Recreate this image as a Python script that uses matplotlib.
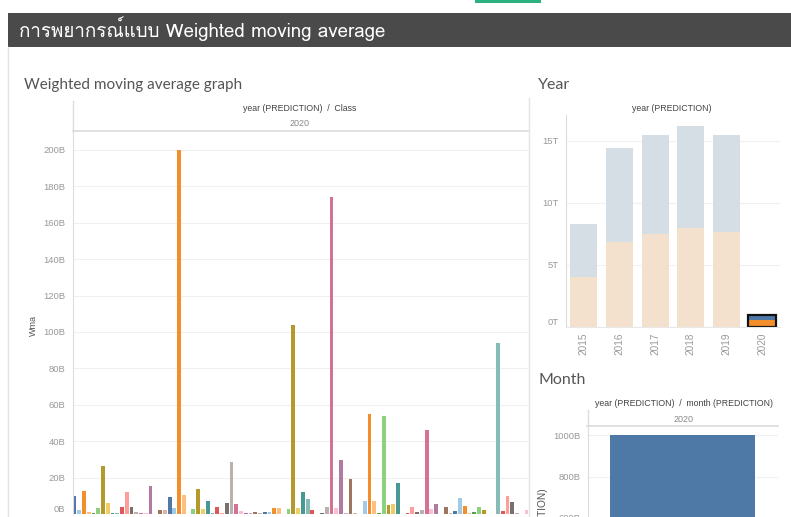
import matplotlib
matplotlib.use("Agg")
import matplotlib.pyplot as plt
from matplotlib import font_manager, ft2font
from matplotlib.lines import Line2D
from matplotlib.patches import Rectangle
import numpy as np

# ---- data ----
class_wma = [9.7, 2.4, 12.8, 1.1, 0.5, 3.1, 26.4, 5.9, 0.8, 0.3,
             3.7, 12.3, 4.0, 1.1, 0.5, 0.6, 15.2, 0.1, 2.0, 2.0,
             9.5, 3.5, 200, 10.3, 0.2, 2.7, 13.7, 2.7, 7.1, 0.3,
             3.8, 0.5, 6.0, 28.4, 5.3, 1.6, 0.4, 0.6, 1.3, 0.3,
             0.9, 1.3, 3.3, 3.3, 0.1, 2.7, 104, 3.3, 12.3, 8.1,
             2.4, 0.1, 0.6, 4.0, 174, 3.5, 29.7, 0.6, 19.2, 0.3,
             0.1, 7.1, 55, 7.1, 0.3, 54, 5.1, 5.5, 16.8, 0.1,
             0.3, 3.7, 1.0, 2.2, 46, 2.7, 5.5, 0.1, 3.7, 0.8,
             1.8, 8.8, 4.4, 0.6, 1.1, 3.7, 2.4, 0.1, 0.1, 94,
             1.6, 10.1, 6.4, 0.3, 0.1, 2.0]  # billions

tableau20 = ['#4E79A7', '#A0CBE8', '#F28E2B', '#FFBE7D', '#59A14F', '#8CD17D',
             '#B6992D', '#F1CE63', '#499894', '#86BCB6', '#E15759', '#FF9D9A',
             '#79706E', '#BAB0AC', '#D37295', '#FABFD2', '#B07AA1', '#D4A6C8',
             '#9D7660', '#D7B5A6']

years = ['2015', '2016', '2017', '2018', '2019', '2020']
year_actual = [3.98, 6.8, 7.48, 7.98, 7.66]       # trillions, peach part
year_rest = [4.28, 7.59, 7.98, 8.21, 7.8]         # trillions, grey part on top
pred_2020_orange = 0.5
pred_2020_blue = 0.45

month_pred = [1000]  # billions, 2020


def thai_font():
    for f in font_manager.fontManager.ttflist:
        try:
            if 0x0E01 in ft2font.FT2Font(f.fname).get_charmap():
                return f.name
        except Exception:
            pass
    return 'DejaVu Sans'


plt.rcParams['font.family'] = ['Liberation Sans', 'DejaVu Sans']

W, H = 791, 517
fig = plt.figure(figsize=(W / 100, H / 100), dpi=100)
fig.patch.set_facecolor('white')


def px_axes(x0, y0, x1, y1):
    return fig.add_axes([x0 / W, 1 - y1 / H, (x1 - x0) / W, (y1 - y0) / H])


def fx(x):
    return x / W


def fy(y):
    return 1 - y / H


def hline(x0, x1, y, color='#dcdcdc', lw=1.2):
    fig.add_artist(Line2D([fx(x0), fx(x1)], [fy(y), fy(y)], color=color, lw=lw))


def vline(x, y0, y1, color='#dcdcdc', lw=1.0):
    fig.add_artist(Line2D([fx(x), fx(x)], [fy(y0), fy(y1)], color=color, lw=lw))


# title bar
fig.add_artist(Rectangle((fx(8), fy(47)), fx(791 - 8), (47 - 13) / H,
                         facecolor='#4a4a4a', edgecolor='none'))
fig.add_artist(Rectangle((fx(475), fy(3)), fx(66), 3 / H,
                         facecolor='#2bb07f', edgecolor='none'))
tf = thai_font()
fig.text(fx(19), fy(29), 'การพยากรณ์แบบ Weighted moving average', color='white',
         fontsize=13.5, family=[tf, 'DejaVu Sans'], va='center', ha='left')

vline(8, 47, 517, color='#e4e4e4')
vline(528.5, 98, 517, color='#e4e4e4')

# ---- main chart ----
fig.text(fx(24), fy(85), 'Weighted moving average graph', fontsize=11,
         color='#555555', family='Lato', va='center')
fig.text(fx(300), fy(109), 'year (PREDICTION)  /  Class', fontsize=6.3,
         color='#444444', ha='center', va='center')
fig.text(fx(300), fy(124), '2020', fontsize=6.5, color='#888888',
         ha='center', va='center')
hline(72.5, 528, 131)
vline(72.5, 101, 131)

ax = px_axes(72.5, 131, 528, 514)
idx = np.arange(len(class_wma))
ax.bar(idx, class_wma, width=0.8, color=[tableau20[i % 20] for i in idx])
ax.set_xlim(-0.4, 95.3)
ax.set_ylim(0, 210.4)
yt = np.arange(0, 201, 20)
ax.set_yticks(yt)
ax.set_yticklabels([f'{v}B' for v in yt], fontsize=6.8, color='#999999')
ax.get_yticklabels()[0].set_va('bottom')
ax.tick_params(axis='y', length=0, pad=5)
ax.set_xticks([])
ax.grid(axis='y', color='#f0f0f0', lw=0.8)
ax.set_axisbelow(True)
for s in ['top', 'right', 'bottom']:
    ax.spines[s].set_visible(False)
ax.spines['left'].set_color('#dcdcdc')
fig.text(fx(33), fy(325), 'Wma', rotation=90, fontsize=6.5, color='#555555',
         ha='center', va='center')

# ---- year chart ----
fig.text(fx(538), fy(85), 'Year', fontsize=11.5, color='#555555',
         family='Lato', va='center')
fig.text(fx(672), fy(109), 'year (PREDICTION)', fontsize=6.3, color='#444444',
         ha='center', va='center')
ay = px_axes(566, 115, 780, 326.7)
xs = np.arange(len(year_actual))
ay.bar(xs, year_actual, width=0.76, color='#f3e1cd')
ay.bar(xs, year_rest, width=0.76, bottom=year_actual, color='#d5dde5')
ay.bar([5], [pred_2020_orange], width=0.76, color='#F28E2B')
ay.bar([5], [pred_2020_blue], width=0.76, bottom=[pred_2020_orange], color='#4E79A7')
ay.bar([5], [pred_2020_orange + pred_2020_blue], width=0.8, color='none',
       edgecolor='#111111', lw=1.6)
ay.set_xlim(-0.5, 5.5)
ay.set_ylim(0, 17.07)
ay.set_yticks([0, 5, 10, 15])
ay.set_yticklabels(['0T', '5T', '10T', '15T'], fontsize=6.8, color='#999999')
ay.get_yticklabels()[0].set_va('bottom')
ay.tick_params(axis='y', length=0, pad=5)
ay.set_xticks(range(len(years)))
ay.set_xticklabels(years, rotation=90, fontsize=7.2, color='#999999')
ay.tick_params(axis='x', length=0, pad=4)
ay.grid(axis='y', color='#f0f0f0', lw=0.8)
ay.set_axisbelow(True)
for s in ['top', 'right']:
    ay.spines[s].set_visible(False)
ay.spines['left'].set_color('#dcdcdc')
ay.spines['bottom'].set_color('#e8e8e8')

# ---- month chart ----
fig.text(fx(538), fy(380), 'Month', fontsize=11.5, color='#555555',
         family='Lato', va='center')
fig.text(fx(684), fy(404), 'year (PREDICTION)  /  month (PREDICTION)',
         fontsize=6.3, color='#444444', ha='center', va='center')
fig.text(fx(684), fy(419), '2020', fontsize=6.5, color='#888888',
         ha='center', va='center')
hline(587, 778, 426)
vline(587.5, 410, 426)
am = px_axes(587.5, 426, 778, 641.8)
am.bar([0], month_pred, width=0.76, color='#4E79A7')
am.set_xlim(-0.5, 0.5)
am.set_ylim(0, 1045)
mt = np.arange(600, 1001, 200)
am.set_yticks(mt)
am.set_yticklabels([f'{v}B' for v in mt], fontsize=6.8, color='#999999')
am.tick_params(axis='y', length=0, pad=5)
am.set_xticks([])
am.grid(axis='y', color='#f0f0f0', lw=0.8)
am.set_axisbelow(True)
for s in ['top', 'right', 'bottom']:
    am.spines[s].set_visible(False)
am.spines['left'].set_color('#dcdcdc')
fig.text(fx(543), fy(488), 'Wma (PREDICTION)', rotation=90, fontsize=7.3,
         color='#555555', ha='center', va='top')

fig.savefig('out.png', dpi=100)
